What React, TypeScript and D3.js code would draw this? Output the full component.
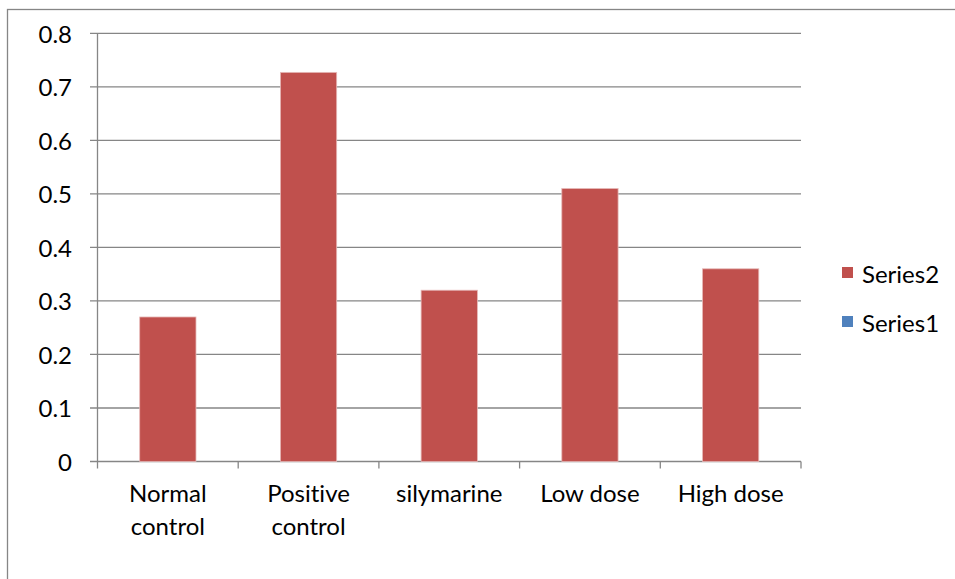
import React from "react";
import * as d3 from "d3";

const categories: string[][] = [
  ["Normal", "control"],
  ["Positive", "control"],
  ["silymarine"],
  ["Low dose"],
  ["High dose"],
];
const series2: number[] = [0.27, 0.727, 0.32, 0.51, 0.36];
const yTicks: number[] = [0, 0.1, 0.2, 0.3, 0.4, 0.5, 0.6, 0.7, 0.8];
const legendItems = [
  { name: "Series2", color: "#C0504D" },
  { name: "Series1", color: "#4F81BD" },
];

const W = 955;
const H = 579;
const FONT = "Lato, 'Open Sans', sans-serif";
const FS = 24;

export default function App() {
  const left = 97.5;
  const right = 801;
  const top = 33.3;
  const bottom = 461.5;

  const x = d3
    .scaleBand<number>()
    .domain(d3.range(categories.length))
    .range([left, right])
    .paddingInner(0.6)
    .paddingOuter(0.3);
  const step = (right - left) / categories.length;
  const y = d3.scaleLinear().domain([0, 0.8]).range([bottom, top]);
  const grid = "#868686";
  const textStyle = { fontVariantLigatures: "none" as const };

  return (
    <svg
      width={W}
      height={H}
      style={{ position: "absolute", left: 0, top: 0, background: "#fff" }}
    >
      <rect x={7.5} y={9.5} width={W + 20} height={H + 20} fill="#fff" stroke={grid} strokeWidth={1.3} />
      {yTicks.map((t) => (
        <g key={t}>
          <line x1={90} x2={right} y1={y(t)} y2={y(t)} stroke={grid} strokeWidth={1.3} />
          <text
            x={72}
            y={y(t)}
            textAnchor="end"
            dominantBaseline="central"
            fontFamily={FONT}
            fontSize={FS}
            fill="#000"
          >
            {t === 0 ? "0" : d3.format(".1f")(t)}
          </text>
        </g>
      ))}
      <line x1={left} x2={left} y1={top} y2={bottom} stroke={grid} strokeWidth={1.3} />
      {d3.range(categories.length + 1).map((i) => (
        <line
          key={i}
          x1={left + i * step}
          x2={left + i * step}
          y1={bottom}
          y2={bottom + 7}
          stroke={grid}
          strokeWidth={1.3}
        />
      ))}
      {series2.map((v, i) => (
        <rect
          key={i}
          x={x(i)!}
          y={y(v)}
          width={x.bandwidth()}
          height={bottom - y(v)}
          fill="#C0504D"
          stroke="#E6B9B8"
          strokeWidth={0.8}
        />
      ))}
      {categories.map((lines, i) => (
        <text
          key={i}
          x={left + (i + 0.5) * step}
          fontFamily={FONT}
          fontSize={FS}
          textAnchor="middle"
          fill="#000"
          style={textStyle}
        >
          {lines.map((l, j) => (
            <tspan key={j} x={left + (i + 0.5) * step} y={502 + j * 33}>
              {l}
            </tspan>
          ))}
        </text>
      ))}
      {legendItems.map((it, i) => (
        <g key={it.name}>
          <rect x={842} y={267 + i * 49} width={11} height={11} fill={it.color} />
          <text
            x={862}
            y={273 + i * 49}
            dominantBaseline="central"
            fontFamily={FONT}
            fontSize={FS}
            fill="#000"
          >
            {it.name}
          </text>
        </g>
      ))}
    </svg>
  );
}
